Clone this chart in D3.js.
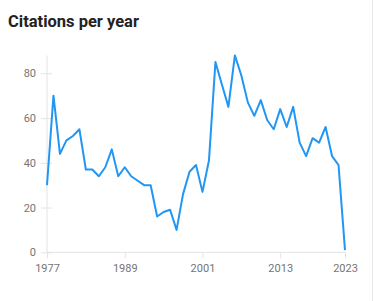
<!DOCTYPE html>
<html><head><meta charset="utf-8">
<script src="https://cdn.jsdelivr.net/npm/d3@7"></script>
<style>
html,body{margin:0;padding:0;background:#fff;}
svg{display:block;font-family:Roboto, "Noto Sans", sans-serif;}
</style></head>
<body>
<svg id="c" width="374" height="301"></svg>
<script>
const years = d3.range(1977, 2024);
const citations = [30,70,44,50,52,55,37,37,34,38,46,34,38,34,32,30,30,16,18,19,10,26,36,39,27,41,85,75,65,88,79,67,61,68,59,55,64,56,65,49,43,51,49,56,43,39,1];
const xTickYears = [1977,1989,2001,2013,2023];
const yTickValues = [0,20,40,60,80];
const title = "Citations per year";

const svg = d3.select("#c");
// card border on right
svg.append("line").attr("x1",372.5).attr("x2",372.5).attr("y1",0).attr("y2",301)
  .attr("stroke","#e6e6e6").attr("stroke-width",1);

svg.append("text").attr("x",8).attr("y",27).text(title)
  .attr("font-size",16.5).attr("font-weight",700).attr("fill","#222");

const x = d3.scaleLinear().domain([1977,2023]).range([47,345]);
const y = d3.scaleLinear().domain([0,88]).range([252.3,55.4]);

const axisColor = "#e3e3e3";
const labelColor = "#757575";

// y axis
const ya = svg.append("g").attr("transform","translate(47,0)")
  .call(d3.axisLeft(y).tickValues(yTickValues).tickSize(6).tickPadding(6).tickFormat(d3.format("d")));
ya.select(".domain").attr("stroke",axisColor).attr("d",`M0,${y(0)}V${y(88)}`);
ya.selectAll(".tick line").attr("stroke",axisColor).attr("x1",-6).attr("x2",5);
ya.selectAll(".tick text").attr("fill",labelColor).attr("font-size",11).attr("font-family","Roboto, sans-serif").attr("x",-11);

// x axis
const xa = svg.append("g").attr("transform",`translate(0,${y(0)})`)
  .call(d3.axisBottom(x).tickValues(xTickYears).tickSize(6).tickPadding(6).tickFormat(d3.format("d")));
xa.select(".domain").attr("stroke",axisColor).attr("d",`M${x(1977)},0H${x(2023)}`);
xa.selectAll(".tick line").attr("stroke",axisColor);
xa.selectAll(".tick text").attr("fill",labelColor).attr("font-size",11).attr("font-family","Roboto, sans-serif");

const line = d3.line().x((d,i)=>x(years[i])).y(d=>y(d));
svg.append("path").datum(citations).attr("d",line)
  .attr("fill","none").attr("stroke","#2196f3").attr("stroke-width",2).attr("stroke-linejoin","round");
</script>
</body></html>
